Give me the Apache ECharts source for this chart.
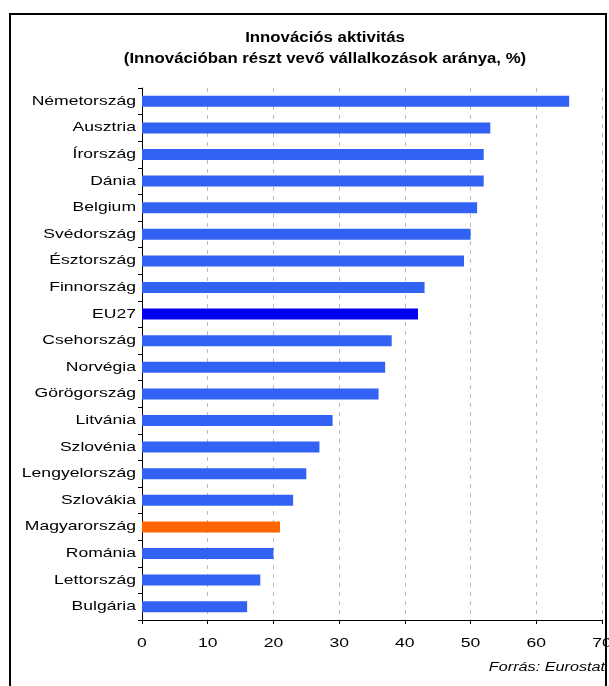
<!DOCTYPE html>
<html>
<head>
<meta charset="utf-8">
<script src="https://cdn.jsdelivr.net/npm/echarts@6/dist/echarts.min.js"></script>
<style>
html,body{margin:0;padding:0;background:#fff;}
#c{width:609px;height:686px;}
</style>
</head>
<body>
<div id="c"></div>
<script>
const categories = ['Németország','Ausztria','Írország','Dánia','Belgium','Svédország','Észtország','Finnország','EU27','Csehország','Norvégia','Görögország','Litvánia','Szlovénia','Lengyelország','Szlovákia','Magyarország','Románia','Lettország','Bulgária'];
const values = [65, 53, 52, 52, 51, 50, 49, 43, 42, 38, 37, 36, 29, 27, 25, 23, 21, 20, 18, 16];
const xTicks = [0, 10, 20, 30, 40, 50, 60, 70];
const titleLines = ['Innovációs aktivitás', '(Innovációban részt vevő vállalkozások aránya, %)'];
const sourceText = 'Forrás: Eurostat';

const baseColor = '#3262f4';
const highlight = {'EU27': '#0000f0', 'Magyarország': '#ff6600'};
const font = 'Liberation Sans, Arial, sans-serif';
const SX = 1.35; // horizontal stretch of the reference's text

const chart = echarts.init(document.getElementById('c'));
chart.setOption({
  animation: false,
  backgroundColor: '#fff',
  grid: {left: 142, right: 7, top: 88, bottom: 66, containLabel: false},
  xAxis: {
    type: 'value', min: 0, max: 70, interval: 10,
    axisLine: {show: true, lineStyle: {color: '#000', width: 1}},
    axisTick: {show: true, length: 4, lineStyle: {color: '#000'}},
    axisLabel: {show: false},
    splitLine: {show: true, lineStyle: {color: '#bbb', type: [4, 5], width: 1}}
  },
  yAxis: {
    type: 'category', data: categories, inverse: true,
    axisLine: {show: true, lineStyle: {color: '#000', width: 1}},
    axisTick: {show: true, length: 4, alignWithLabel: false, lineStyle: {color: '#000'}},
    axisLabel: {show: false},
    splitLine: {show: false}
  },
  series: [{
    type: 'bar',
    data: values.map((v, i) => ({value: v, itemStyle: {color: highlight[categories[i]] || baseColor}})),
    barWidth: 11,
    silent: true
  }]
});

const g = [];
g.push({type: 'rect', shape: {x: 10, y: 14, width: 596, height: 700}, style: {fill: 'none', stroke: '#000', lineWidth: 2}, silent: true, z: 10});
// title
titleLines.forEach((t, i) => {
  g.push({type: 'text', x: 325, y: 38 + i * 21, scaleX: 1.2,
    style: {text: t, fontFamily: font, fontSize: 14, fontWeight: 'bold', fill: '#000', align: 'center', verticalAlign: 'middle'}, z: 10});
});
// category labels
const x0 = chart.convertToPixel({xAxisIndex: 0}, 0);
categories.forEach(c => {
  const y = chart.convertToPixel({yAxisIndex: 0}, c);
  g.push({type: 'text', x: x0 - 6, y: y, scaleX: SX,
    style: {text: c, fontFamily: font, fontSize: 13, fill: '#000', align: 'right', verticalAlign: 'middle'}, z: 10});
});
// value labels
xTicks.forEach(v => {
  const x = chart.convertToPixel({xAxisIndex: 0}, v);
  g.push({type: 'text', x: x, y: 643, scaleX: SX,
    style: {text: String(v), fontFamily: font, fontSize: 13, fill: '#000', align: 'center', verticalAlign: 'middle'}, z: 10});
});
// source
g.push({type: 'text', x: 605, y: 668, scaleX: SX,
  style: {text: sourceText, fontFamily: font, fontSize: 12, fontStyle: 'italic', fill: '#000', align: 'right', verticalAlign: 'middle'}, z: 10});

chart.setOption({graphic: g});
</script>
</body>
</html>
